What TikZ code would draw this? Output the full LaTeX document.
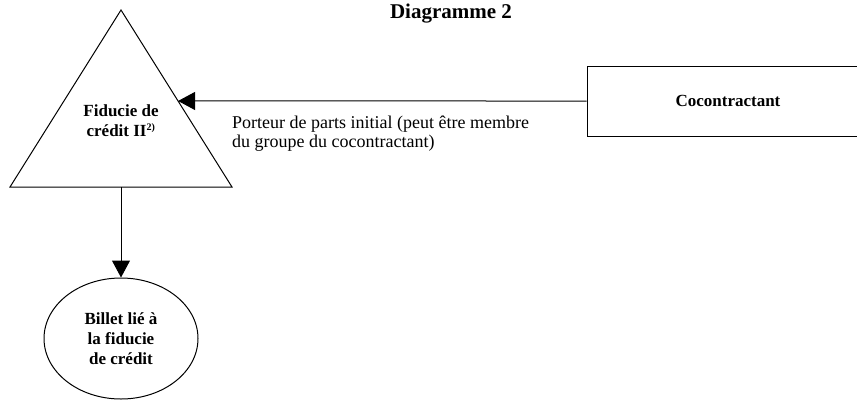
\documentclass[tikz,border=0pt]{standalone}
\usepackage{fontspec}
\setmainfont{Liberation Serif}
\usepackage{tikz}
\usetikzlibrary{shapes.geometric, arrows.meta, positioning, calc}

\begin{document}
\begin{tikzpicture}[
    x=1pt, y=-1pt,
    font=\fontsize{17}{20}\selectfont,
    block/.style={rectangle, draw, line width=1pt, minimum width=282pt,
                  minimum height=70pt, font=\fontsize{17}{20}\selectfont\bfseries},
    oval/.style={ellipse, draw, line width=1pt, minimum width=154pt,
                 minimum height=121pt, inner sep=0pt, align=center,
                 font=\fontsize{17}{20}\selectfont\bfseries},
    arrow/.style={-{Triangle[length=17pt, width=18pt]}, line width=1pt}
]
    \clip (0,0) rectangle (857,400);

    \node[font=\fontsize{21}{24}\selectfont\bfseries] (title) at (451,14) {Diagramme 2};

    % triangle of the trust
    \coordinate (apex) at (121,10);
    \coordinate (bl) at (10,187);
    \coordinate (br) at (232,187);
    \draw[line width=1pt] (apex) -- (bl) -- (br) -- cycle;
    \node[align=center, font=\fontsize{17}{20}\selectfont\bfseries] (fid) at (121,121)
        {Fiducie de\\cr\'edit II\textsuperscript{\fontsize{10}{10}\selectfont 2)}};
    \coordinate (fidin) at ($(apex)!0.514!(br)$);
    \coordinate (fidout) at ($(bl)!0.5!(br)$);

    \node[block] (coc) at (728,101) {Cocontractant};
    \node[oval] (billet) at (121,338.5) {Billet li\'e \`a\\la fiducie\\de cr\'edit};

    \draw[arrow] (coc.west) -- (fidin);
    \draw[arrow] (fidout) -- (billet.north);

    \node[anchor=north west, align=left, inner sep=0pt,
          font=\fontsize{18}{19}\selectfont] (porteur) at (232,116)
        {Porteur de parts initial (peut \^etre membre\\du groupe du cocontractant)};
\end{tikzpicture}
\end{document}
